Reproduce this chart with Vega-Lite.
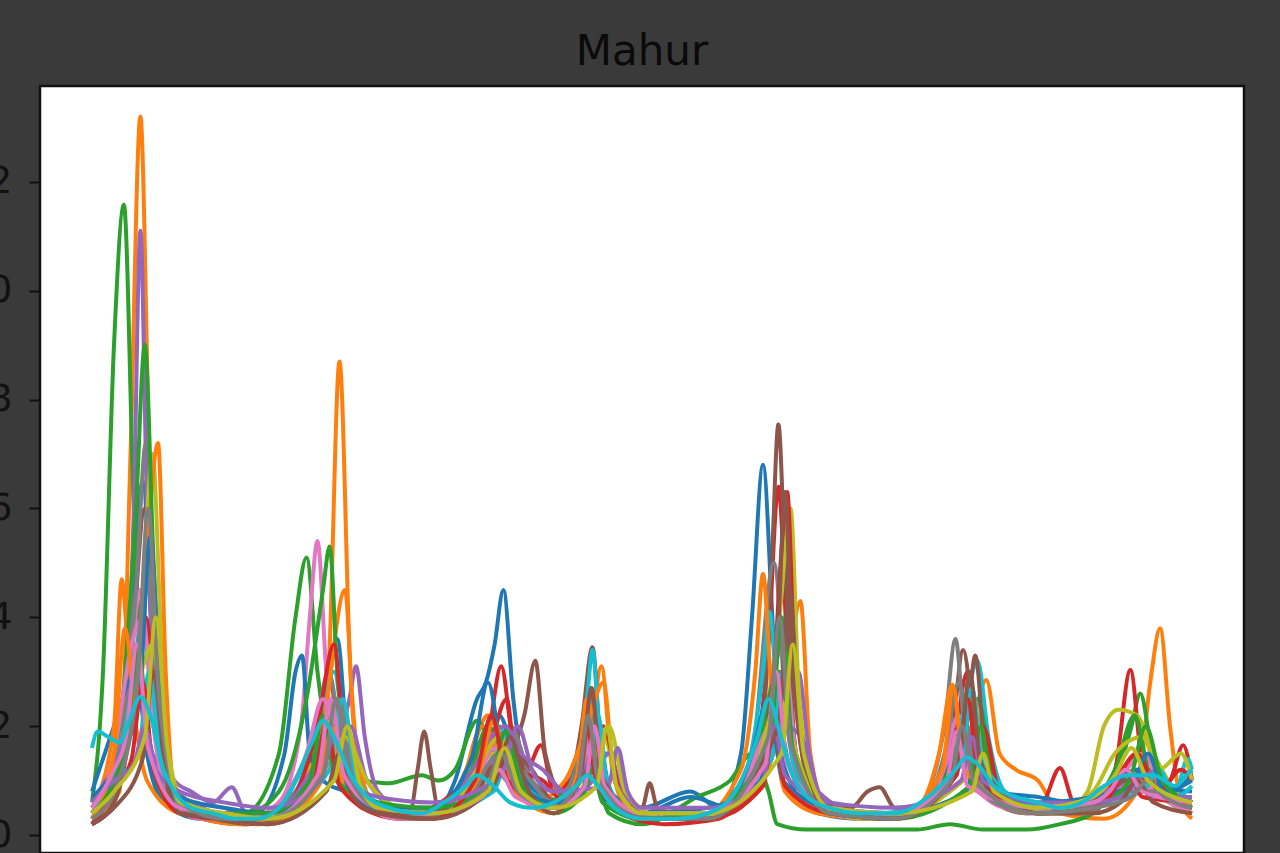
{
"$schema":"https://vega.github.io/schema/vega-lite/v6.json",
"autosize":{"type":"none"},
"padding":{"left":40,"top":86,"right":36,"bottom":0},
"width":1204,"height":767,
"background":"#3a3a3a",
"config":{"view":{"fill":"white","stroke":"#111111","strokeWidth":2.5},"line":{"strokeWidth":4}},
"title":{"text":"Mahur","font":"DejaVu Sans","fontSize":42,"fontWeight":"normal","color":"#0a0a0a","offset":12,"anchor":"middle"},
"datasets":{"d":[
{"s":"s01","x":0,"y":0.004},{"s":"s01","x":2,"y":0.012},{"s":"s01","x":3.5,"y":0.035},{"s":"s01","x":4.6,"y":0.065},{"s":"s01","x":5.6,"y":0.03},{"s":"s01","x":6.5,"y":0.01},{"s":"s01","x":8,"y":0.005},{"s":"s01","x":11,"y":0.004},{"s":"s01","x":14,"y":0.003},{"s":"s01","x":17,"y":0.005},{"s":"s01","x":19,"y":0.012},{"s":"s01","x":21,"y":0.02},{"s":"s01","x":22.3,"y":0.036},{"s":"s01","x":23.3,"y":0.015},{"s":"s01","x":25,"y":0.006},{"s":"s01","x":28,"y":0.004},{"s":"s01","x":31,"y":0.004},{"s":"s01","x":33,"y":0.01},{"s":"s01","x":35,"y":0.025},{"s":"s01","x":35.8,"y":0.028},{"s":"s01","x":36.6,"y":0.035},{"s":"s01","x":37.4,"y":0.045},{"s":"s01","x":38.3,"y":0.025},{"s":"s01","x":39.5,"y":0.01},{"s":"s01","x":42,"y":0.006},{"s":"s01","x":44,"y":0.01},{"s":"s01","x":45.5,"y":0.018},{"s":"s01","x":47,"y":0.008},{"s":"s01","x":50,"y":0.005},{"s":"s01","x":54.4,"y":0.008},{"s":"s01","x":57,"y":0.005},{"s":"s01","x":59,"y":0.015},{"s":"s01","x":60,"y":0.04},{"s":"s01","x":61,"y":0.068},{"s":"s01","x":62,"y":0.035},{"s":"s01","x":63.5,"y":0.012},{"s":"s01","x":66,"y":0.005},{"s":"s01","x":70,"y":0.003},{"s":"s01","x":74,"y":0.004},{"s":"s01","x":77,"y":0.008},{"s":"s01","x":79,"y":0.018},{"s":"s01","x":80.5,"y":0.02},{"s":"s01","x":82,"y":0.009},{"s":"s01","x":85,"y":0.005},{"s":"s01","x":88,"y":0.004},{"s":"s01","x":91,"y":0.006},{"s":"s01","x":94,"y":0.01},{"s":"s01","x":96,"y":0.012},{"s":"s01","x":98,"y":0.008},{"s":"s01","x":100,"y":0.011},
{"s":"s02","x":0,"y":0.003},{"s":"s02","x":2.5,"y":0.008},{"s":"s02","x":3.5,"y":0.07},{"s":"s02","x":4.4,"y":0.132},{"s":"s02","x":5.2,"y":0.07},{"s":"s02","x":6,"y":0.02},{"s":"s02","x":7,"y":0.006},{"s":"s02","x":10,"y":0.003},{"s":"s02","x":14,"y":0.002},{"s":"s02","x":17,"y":0.003},{"s":"s02","x":20,"y":0.008},{"s":"s02","x":21.5,"y":0.03},{"s":"s02","x":22.5,"y":0.087},{"s":"s02","x":23.5,"y":0.03},{"s":"s02","x":25,"y":0.006},{"s":"s02","x":28,"y":0.003},{"s":"s02","x":32,"y":0.004},{"s":"s02","x":34,"y":0.012},{"s":"s02","x":36,"y":0.022},{"s":"s02","x":38,"y":0.012},{"s":"s02","x":41,"y":0.005},{"s":"s02","x":44,"y":0.012},{"s":"s02","x":45.5,"y":0.022},{"s":"s02","x":46.3,"y":0.031},{"s":"s02","x":47.3,"y":0.012},{"s":"s02","x":49,"y":0.004},{"s":"s02","x":53,"y":0.003},{"s":"s02","x":57,"y":0.004},{"s":"s02","x":61,"y":0.01},{"s":"s02","x":63,"y":0.025},{"s":"s02","x":64.4,"y":0.043},{"s":"s02","x":65.3,"y":0.015},{"s":"s02","x":67,"y":0.004},{"s":"s02","x":71,"y":0.003},{"s":"s02","x":75,"y":0.004},{"s":"s02","x":78,"y":0.01},{"s":"s02","x":80,"y":0.02},{"s":"s02","x":81.3,"y":0.0285},{"s":"s02","x":82.5,"y":0.015},{"s":"s02","x":84,"y":0.012},{"s":"s02","x":86,"y":0.01},{"s":"s02","x":88,"y":0.004},{"s":"s02","x":92,"y":0.003},{"s":"s02","x":95,"y":0.008},{"s":"s02","x":96.2,"y":0.028},{"s":"s02","x":97.1,"y":0.038},{"s":"s02","x":98,"y":0.02},{"s":"s02","x":99,"y":0.006},{"s":"s02","x":100,"y":0.003},
{"s":"s03","x":0,"y":0.006},{"s":"s03","x":1,"y":0.03},{"s":"s03","x":2,"y":0.09},{"s":"s03","x":2.9,"y":0.1158},{"s":"s03","x":3.8,"y":0.06},{"s":"s03","x":5,"y":0.015},{"s":"s03","x":7,"y":0.005},{"s":"s03","x":10,"y":0.003},{"s":"s03","x":14,"y":0.004},{"s":"s03","x":17,"y":0.015},{"s":"s03","x":18.5,"y":0.04},{"s":"s03","x":19.5,"y":0.051},{"s":"s03","x":20.5,"y":0.03},{"s":"s03","x":22,"y":0.012},{"s":"s03","x":23,"y":0.009},{"s":"s03","x":24,"y":0.01},{"s":"s03","x":27,"y":0.0095},{"s":"s03","x":30,"y":0.011},{"s":"s03","x":31.5,"y":0.01},{"s":"s03","x":33,"y":0.012},{"s":"s03","x":35,"y":0.021},{"s":"s03","x":37,"y":0.012},{"s":"s03","x":40,"y":0.006},{"s":"s03","x":42,"y":0.004},{"s":"s03","x":44,"y":0.006},{"s":"s03","x":45.5,"y":0.012},{"s":"s03","x":47,"y":0.004},{"s":"s03","x":50,"y":0.002},{"s":"s03","x":55,"y":0.007},{"s":"s03","x":58,"y":0.01},{"s":"s03","x":60,"y":0.015},{"s":"s03","x":61.5,"y":0.008},{"s":"s03","x":62.3,"y":0.002},{"s":"s03","x":65,"y":0.001},{"s":"s03","x":70,"y":0.001},{"s":"s03","x":75,"y":0.001},{"s":"s03","x":78,"y":0.002},{"s":"s03","x":81,"y":0.001},{"s":"s03","x":85,"y":0.001},{"s":"s03","x":88,"y":0.002},{"s":"s03","x":91,"y":0.004},{"s":"s03","x":93,"y":0.01},{"s":"s03","x":94.5,"y":0.02},{"s":"s03","x":95.3,"y":0.026},{"s":"s03","x":96.3,"y":0.016},{"s":"s03","x":98,"y":0.006},{"s":"s03","x":100,"y":0.004},
{"s":"s04","x":0,"y":0.002},{"s":"s04","x":2,"y":0.006},{"s":"s04","x":4,"y":0.03},{"s":"s04","x":5,"y":0.05},{"s":"s04","x":6,"y":0.02},{"s":"s04","x":7.5,"y":0.005},{"s":"s04","x":11,"y":0.003},{"s":"s04","x":15,"y":0.003},{"s":"s04","x":18,"y":0.006},{"s":"s04","x":20.5,"y":0.018},{"s":"s04","x":21.6,"y":0.029},{"s":"s04","x":22.6,"y":0.014},{"s":"s04","x":24.5,"y":0.005},{"s":"s04","x":28,"y":0.003},{"s":"s04","x":32,"y":0.004},{"s":"s04","x":34,"y":0.008},{"s":"s04","x":36,"y":0.018},{"s":"s04","x":37.2,"y":0.031},{"s":"s04","x":38.2,"y":0.018},{"s":"s04","x":39.5,"y":0.012},{"s":"s04","x":40.8,"y":0.0165},{"s":"s04","x":42,"y":0.008},{"s":"s04","x":44,"y":0.012},{"s":"s04","x":45.4,"y":0.027},{"s":"s04","x":46.4,"y":0.01},{"s":"s04","x":48,"y":0.004},{"s":"s04","x":52,"y":0.002},{"s":"s04","x":57,"y":0.003},{"s":"s04","x":60,"y":0.012},{"s":"s04","x":61.5,"y":0.035},{"s":"s04","x":62.4,"y":0.064},{"s":"s04","x":63.3,"y":0.03},{"s":"s04","x":64.5,"y":0.01},{"s":"s04","x":67,"y":0.004},{"s":"s04","x":71,"y":0.003},{"s":"s04","x":75,"y":0.004},{"s":"s04","x":78,"y":0.012},{"s":"s04","x":79.6,"y":0.03},{"s":"s04","x":80.6,"y":0.015},{"s":"s04","x":82,"y":0.006},{"s":"s04","x":85,"y":0.004},{"s":"s04","x":86.5,"y":0.006},{"s":"s04","x":88,"y":0.0123},{"s":"s04","x":89.3,"y":0.006},{"s":"s04","x":91,"y":0.006},{"s":"s04","x":93,"y":0.012},{"s":"s04","x":94.4,"y":0.0303},{"s":"s04","x":95.4,"y":0.014},{"s":"s04","x":96.5,"y":0.008},{"s":"s04","x":98,"y":0.01},{"s":"s04","x":99.2,"y":0.0165},{"s":"s04","x":100,"y":0.01},
{"s":"s05","x":0,"y":0.005},{"s":"s05","x":3,"y":0.02},{"s":"s05","x":3.8,"y":0.06},{"s":"s05","x":4.4,"y":0.111},{"s":"s05","x":5,"y":0.06},{"s":"s05","x":6,"y":0.02},{"s":"s05","x":7.5,"y":0.01},{"s":"s05","x":9,"y":0.008},{"s":"s05","x":11,"y":0.006},{"s":"s05","x":12.7,"y":0.0088},{"s":"s05","x":14,"y":0.004},{"s":"s05","x":17,"y":0.003},{"s":"s05","x":20,"y":0.008},{"s":"s05","x":22,"y":0.015},{"s":"s05","x":23.4,"y":0.025},{"s":"s05","x":24,"y":0.031},{"s":"s05","x":24.8,"y":0.018},{"s":"s05","x":26,"y":0.008},{"s":"s05","x":29,"y":0.004},{"s":"s05","x":33,"y":0.006},{"s":"s05","x":36,"y":0.012},{"s":"s05","x":38,"y":0.02},{"s":"s05","x":40,"y":0.01},{"s":"s05","x":43,"y":0.006},{"s":"s05","x":45.5,"y":0.01},{"s":"s05","x":47,"y":0.015},{"s":"s05","x":48.5,"y":0.006},{"s":"s05","x":52,"y":0.003},{"s":"s05","x":57,"y":0.004},{"s":"s05","x":60,"y":0.01},{"s":"s05","x":62,"y":0.02},{"s":"s05","x":64.2,"y":0.03},{"s":"s05","x":65.2,"y":0.015},{"s":"s05","x":67,"y":0.005},{"s":"s05","x":72,"y":0.003},{"s":"s05","x":76,"y":0.005},{"s":"s05","x":79,"y":0.015},{"s":"s05","x":80.5,"y":0.02},{"s":"s05","x":82,"y":0.009},{"s":"s05","x":85,"y":0.004},{"s":"s05","x":89,"y":0.004},{"s":"s05","x":92,"y":0.007},{"s":"s05","x":95,"y":0.012},{"s":"s05","x":98,"y":0.008},{"s":"s05","x":100,"y":0.006},
{"s":"s06","x":0,"y":0.002},{"s":"s06","x":2,"y":0.01},{"s":"s06","x":3.5,"y":0.03},{"s":"s06","x":4.8,"y":0.06},{"s":"s06","x":5.8,"y":0.035},{"s":"s06","x":7,"y":0.008},{"s":"s06","x":10,"y":0.003},{"s":"s06","x":14,"y":0.002},{"s":"s06","x":18,"y":0.004},{"s":"s06","x":20.5,"y":0.015},{"s":"s06","x":22,"y":0.025},{"s":"s06","x":23.5,"y":0.01},{"s":"s06","x":26,"y":0.004},{"s":"s06","x":29,"y":0.005},{"s":"s06","x":29.6,"y":0.012},{"s":"s06","x":30.2,"y":0.019},{"s":"s06","x":30.8,"y":0.012},{"s":"s06","x":31.5,"y":0.005},{"s":"s06","x":34,"y":0.008},{"s":"s06","x":36,"y":0.012},{"s":"s06","x":38,"y":0.015},{"s":"s06","x":39.3,"y":0.022},{"s":"s06","x":40.3,"y":0.032},{"s":"s06","x":41.2,"y":0.015},{"s":"s06","x":43,"y":0.007},{"s":"s06","x":44.5,"y":0.02},{"s":"s06","x":45.5,"y":0.0345},{"s":"s06","x":46.3,"y":0.015},{"s":"s06","x":48,"y":0.005},{"s":"s06","x":50,"y":0.005},{"s":"s06","x":50.7,"y":0.0095},{"s":"s06","x":51.4,"y":0.005},{"s":"s06","x":55,"y":0.003},{"s":"s06","x":59,"y":0.006},{"s":"s06","x":61,"y":0.02},{"s":"s06","x":61.8,"y":0.05},{"s":"s06","x":62.4,"y":0.0754},{"s":"s06","x":63,"y":0.05},{"s":"s06","x":64,"y":0.015},{"s":"s06","x":66,"y":0.006},{"s":"s06","x":69,"y":0.005},{"s":"s06","x":70.5,"y":0.008},{"s":"s06","x":71.6,"y":0.0088},{"s":"s06","x":73,"y":0.005},{"s":"s06","x":76,"y":0.006},{"s":"s06","x":78,"y":0.015},{"s":"s06","x":79.2,"y":0.034},{"s":"s06","x":80.2,"y":0.02},{"s":"s06","x":82,"y":0.008},{"s":"s06","x":86,"y":0.004},{"s":"s06","x":90,"y":0.004},{"s":"s06","x":93,"y":0.008},{"s":"s06","x":95,"y":0.015},{"s":"s06","x":97,"y":0.008},{"s":"s06","x":100,"y":0.005},
{"s":"s07","x":0,"y":0.003},{"s":"s07","x":2,"y":0.012},{"s":"s07","x":3.4,"y":0.03},{"s":"s07","x":4.4,"y":0.045},{"s":"s07","x":5.4,"y":0.025},{"s":"s07","x":7,"y":0.006},{"s":"s07","x":10,"y":0.004},{"s":"s07","x":14,"y":0.003},{"s":"s07","x":17,"y":0.006},{"s":"s07","x":19,"y":0.02},{"s":"s07","x":19.8,"y":0.04},{"s":"s07","x":20.5,"y":0.054},{"s":"s07","x":21.3,"y":0.03},{"s":"s07","x":22.5,"y":0.01},{"s":"s07","x":25,"y":0.005},{"s":"s07","x":29,"y":0.003},{"s":"s07","x":33,"y":0.006},{"s":"s07","x":36,"y":0.015},{"s":"s07","x":37.5,"y":0.018},{"s":"s07","x":39,"y":0.01},{"s":"s07","x":42,"y":0.005},{"s":"s07","x":44.5,"y":0.012},{"s":"s07","x":45.8,"y":0.02},{"s":"s07","x":47,"y":0.008},{"s":"s07","x":50,"y":0.003},{"s":"s07","x":55,"y":0.003},{"s":"s07","x":59,"y":0.008},{"s":"s07","x":61.5,"y":0.025},{"s":"s07","x":62.8,"y":0.035},{"s":"s07","x":64,"y":0.015},{"s":"s07","x":66,"y":0.005},{"s":"s07","x":70,"y":0.003},{"s":"s07","x":74,"y":0.004},{"s":"s07","x":77,"y":0.01},{"s":"s07","x":78.8,"y":0.022},{"s":"s07","x":80,"y":0.012},{"s":"s07","x":82.5,"y":0.006},{"s":"s07","x":86,"y":0.004},{"s":"s07","x":90,"y":0.005},{"s":"s07","x":93,"y":0.009},{"s":"s07","x":95.5,"y":0.015},{"s":"s07","x":97.5,"y":0.008},{"s":"s07","x":100,"y":0.006},
{"s":"s08","x":0,"y":0.004},{"s":"s08","x":2.5,"y":0.015},{"s":"s08","x":4,"y":0.045},{"s":"s08","x":4.9,"y":0.072},{"s":"s08","x":5.8,"y":0.04},{"s":"s08","x":7,"y":0.01},{"s":"s08","x":10,"y":0.005},{"s":"s08","x":14,"y":0.003},{"s":"s08","x":17,"y":0.005},{"s":"s08","x":20,"y":0.015},{"s":"s08","x":21.5,"y":0.03},{"s":"s08","x":22.8,"y":0.015},{"s":"s08","x":25,"y":0.006},{"s":"s08","x":29,"y":0.004},{"s":"s08","x":33,"y":0.007},{"s":"s08","x":36,"y":0.015},{"s":"s08","x":38,"y":0.02},{"s":"s08","x":40,"y":0.01},{"s":"s08","x":43,"y":0.006},{"s":"s08","x":44.5,"y":0.015},{"s":"s08","x":45.2,"y":0.027},{"s":"s08","x":46,"y":0.015},{"s":"s08","x":48,"y":0.005},{"s":"s08","x":52,"y":0.003},{"s":"s08","x":57,"y":0.004},{"s":"s08","x":60,"y":0.015},{"s":"s08","x":62,"y":0.05},{"s":"s08","x":63.2,"y":0.02},{"s":"s08","x":65,"y":0.006},{"s":"s08","x":70,"y":0.003},{"s":"s08","x":75,"y":0.005},{"s":"s08","x":77.5,"y":0.02},{"s":"s08","x":78.5,"y":0.036},{"s":"s08","x":79.3,"y":0.02},{"s":"s08","x":81,"y":0.008},{"s":"s08","x":85,"y":0.004},{"s":"s08","x":90,"y":0.004},{"s":"s08","x":93,"y":0.007},{"s":"s08","x":96,"y":0.01},{"s":"s08","x":100,"y":0.006},
{"s":"s09","x":0,"y":0.005},{"s":"s09","x":3,"y":0.015},{"s":"s09","x":4.5,"y":0.04},{"s":"s09","x":5.5,"y":0.07},{"s":"s09","x":6.4,"y":0.03},{"s":"s09","x":7.5,"y":0.008},{"s":"s09","x":11,"y":0.004},{"s":"s09","x":15,"y":0.003},{"s":"s09","x":18,"y":0.006},{"s":"s09","x":21,"y":0.018},{"s":"s09","x":22.5,"y":0.025},{"s":"s09","x":24,"y":0.01},{"s":"s09","x":27,"y":0.004},{"s":"s09","x":31,"y":0.004},{"s":"s09","x":34,"y":0.008},{"s":"s09","x":36.5,"y":0.015},{"s":"s09","x":38.5,"y":0.01},{"s":"s09","x":42,"y":0.005},{"s":"s09","x":45,"y":0.01},{"s":"s09","x":46.5,"y":0.018},{"s":"s09","x":48,"y":0.008},{"s":"s09","x":52,"y":0.003},{"s":"s09","x":57,"y":0.004},{"s":"s09","x":60,"y":0.012},{"s":"s09","x":62.5,"y":0.04},{"s":"s09","x":63.5,"y":0.06},{"s":"s09","x":64.3,"y":0.025},{"s":"s09","x":66,"y":0.006},{"s":"s09","x":70,"y":0.003},{"s":"s09","x":74,"y":0.004},{"s":"s09","x":78,"y":0.012},{"s":"s09","x":80,"y":0.025},{"s":"s09","x":81.5,"y":0.012},{"s":"s09","x":84,"y":0.005},{"s":"s09","x":88,"y":0.004},{"s":"s09","x":90.5,"y":0.008},{"s":"s09","x":92,"y":0.02},{"s":"s09","x":93.3,"y":0.023},{"s":"s09","x":95,"y":0.022},{"s":"s09","x":96.5,"y":0.015},{"s":"s09","x":98.5,"y":0.008},{"s":"s09","x":100,"y":0.005},
{"s":"s10","x":0,"y":0.004},{"s":"s10","x":2,"y":0.01},{"s":"s10","x":3.5,"y":0.025},{"s":"s10","x":4.6,"y":0.04},{"s":"s10","x":5.6,"y":0.02},{"s":"s10","x":7,"y":0.006},{"s":"s10","x":11,"y":0.004},{"s":"s10","x":15,"y":0.003},{"s":"s10","x":18,"y":0.006},{"s":"s10","x":20.5,"y":0.02},{"s":"s10","x":22,"y":0.03},{"s":"s10","x":23.3,"y":0.012},{"s":"s10","x":26,"y":0.005},{"s":"s10","x":30,"y":0.004},{"s":"s10","x":34,"y":0.008},{"s":"s10","x":37,"y":0.02},{"s":"s10","x":39,"y":0.01},{"s":"s10","x":42,"y":0.006},{"s":"s10","x":44,"y":0.012},{"s":"s10","x":45,"y":0.025},{"s":"s10","x":45.5,"y":0.034},{"s":"s10","x":46.1,"y":0.02},{"s":"s10","x":47.5,"y":0.007},{"s":"s10","x":51,"y":0.003},{"s":"s10","x":56,"y":0.004},{"s":"s10","x":59.5,"y":0.012},{"s":"s10","x":61,"y":0.03},{"s":"s10","x":61.6,"y":0.041},{"s":"s10","x":62.3,"y":0.025},{"s":"s10","x":64,"y":0.01},{"s":"s10","x":67,"y":0.005},{"s":"s10","x":71,"y":0.004},{"s":"s10","x":75,"y":0.005},{"s":"s10","x":78,"y":0.012},{"s":"s10","x":79.5,"y":0.025},{"s":"s10","x":80.5,"y":0.032},{"s":"s10","x":81.5,"y":0.018},{"s":"s10","x":83,"y":0.008},{"s":"s10","x":87,"y":0.005},{"s":"s10","x":91,"y":0.006},{"s":"s10","x":94,"y":0.01},{"s":"s10","x":97,"y":0.009},{"s":"s10","x":98.5,"y":0.008},{"s":"s10","x":99.6,"y":0.014},{"s":"s10","x":100,"y":0.012},
{"s":"s11","x":0,"y":0.008},{"s":"s11","x":2,"y":0.02},{"s":"s11","x":3.3,"y":0.028},{"s":"s11","x":4,"y":0.03},{"s":"s11","x":5,"y":0.015},{"s":"s11","x":6.5,"y":0.006},{"s":"s11","x":10,"y":0.003},{"s":"s11","x":15,"y":0.004},{"s":"s11","x":17.5,"y":0.015},{"s":"s11","x":18.5,"y":0.03},{"s":"s11","x":19.1,"y":0.033},{"s":"s11","x":19.8,"y":0.015},{"s":"s11","x":21,"y":0.01},{"s":"s11","x":23,"y":0.008},{"s":"s11","x":26,"y":0.005},{"s":"s11","x":30,"y":0.004},{"s":"s11","x":33,"y":0.008},{"s":"s11","x":35.5,"y":0.018},{"s":"s11","x":37,"y":0.022},{"s":"s11","x":39,"y":0.01},{"s":"s11","x":42,"y":0.005},{"s":"s11","x":45,"y":0.012},{"s":"s11","x":47,"y":0.008},{"s":"s11","x":50,"y":0.004},{"s":"s11","x":54.4,"y":0.007},{"s":"s11","x":58,"y":0.005},{"s":"s11","x":60,"y":0.015},{"s":"s11","x":61.5,"y":0.025},{"s":"s11","x":63,"y":0.012},{"s":"s11","x":66,"y":0.004},{"s":"s11","x":70,"y":0.003},{"s":"s11","x":74,"y":0.004},{"s":"s11","x":78,"y":0.01},{"s":"s11","x":80,"y":0.015},{"s":"s11","x":82,"y":0.008},{"s":"s11","x":86,"y":0.007},{"s":"s11","x":89,"y":0.006},{"s":"s11","x":92,"y":0.008},{"s":"s11","x":95,"y":0.012},{"s":"s11","x":97,"y":0.009},{"s":"s11","x":100,"y":0.008},
{"s":"s12","x":0,"y":0.005},{"s":"s12","x":2,"y":0.02},{"s":"s12","x":2.7,"y":0.047},{"s":"s12","x":3.5,"y":0.03},{"s":"s12","x":4.5,"y":0.035},{"s":"s12","x":5.3,"y":0.06},{"s":"s12","x":6,"y":0.072},{"s":"s12","x":6.7,"y":0.03},{"s":"s12","x":7.5,"y":0.008},{"s":"s12","x":10,"y":0.003},{"s":"s12","x":14,"y":0.002},{"s":"s12","x":18,"y":0.005},{"s":"s12","x":21,"y":0.02},{"s":"s12","x":23,"y":0.045},{"s":"s12","x":23.8,"y":0.02},{"s":"s12","x":25.5,"y":0.006},{"s":"s12","x":29,"y":0.003},{"s":"s12","x":33,"y":0.006},{"s":"s12","x":35.5,"y":0.02},{"s":"s12","x":37,"y":0.015},{"s":"s12","x":40,"y":0.006},{"s":"s12","x":43,"y":0.01},{"s":"s12","x":45,"y":0.02},{"s":"s12","x":46.5,"y":0.028},{"s":"s12","x":47.5,"y":0.01},{"s":"s12","x":50,"y":0.003},{"s":"s12","x":55,"y":0.003},{"s":"s12","x":59,"y":0.012},{"s":"s12","x":60.3,"y":0.03},{"s":"s12","x":61,"y":0.048},{"s":"s12","x":61.8,"y":0.025},{"s":"s12","x":63,"y":0.008},{"s":"s12","x":66,"y":0.004},{"s":"s12","x":71,"y":0.003},{"s":"s12","x":75,"y":0.005},{"s":"s12","x":77,"y":0.015},{"s":"s12","x":78.2,"y":0.0276},{"s":"s12","x":79.3,"y":0.012},{"s":"s12","x":82,"y":0.006},{"s":"s12","x":86,"y":0.004},{"s":"s12","x":90,"y":0.005},{"s":"s12","x":93,"y":0.01},{"s":"s12","x":95,"y":0.015},{"s":"s12","x":97,"y":0.008},{"s":"s12","x":100,"y":0.004},
{"s":"s13","x":0,"y":0.003},{"s":"s13","x":2.5,"y":0.02},{"s":"s13","x":4,"y":0.06},{"s":"s13","x":4.8,"y":0.09},{"s":"s13","x":5.6,"y":0.05},{"s":"s13","x":6.8,"y":0.01},{"s":"s13","x":10,"y":0.004},{"s":"s13","x":14,"y":0.004},{"s":"s13","x":17,"y":0.008},{"s":"s13","x":19.5,"y":0.025},{"s":"s13","x":21,"y":0.045},{"s":"s13","x":21.6,"y":0.053},{"s":"s13","x":22.3,"y":0.03},{"s":"s13","x":24,"y":0.008},{"s":"s13","x":28,"y":0.004},{"s":"s13","x":32,"y":0.004},{"s":"s13","x":34.5,"y":0.012},{"s":"s13","x":36,"y":0.02},{"s":"s13","x":38,"y":0.012},{"s":"s13","x":41,"y":0.006},{"s":"s13","x":44,"y":0.01},{"s":"s13","x":45.5,"y":0.015},{"s":"s13","x":47.5,"y":0.006},{"s":"s13","x":51,"y":0.003},{"s":"s13","x":57,"y":0.004},{"s":"s13","x":60,"y":0.012},{"s":"s13","x":62.5,"y":0.03},{"s":"s13","x":64,"y":0.012},{"s":"s13","x":67,"y":0.004},{"s":"s13","x":72,"y":0.003},{"s":"s13","x":76,"y":0.005},{"s":"s13","x":79,"y":0.018},{"s":"s13","x":80.5,"y":0.025},{"s":"s13","x":82,"y":0.01},{"s":"s13","x":86,"y":0.004},{"s":"s13","x":90,"y":0.005},{"s":"s13","x":93,"y":0.012},{"s":"s13","x":94.8,"y":0.022},{"s":"s13","x":96,"y":0.012},{"s":"s13","x":98,"y":0.006},{"s":"s13","x":100,"y":0.005},
{"s":"s14","x":0,"y":0.004},{"s":"s14","x":2.5,"y":0.012},{"s":"s14","x":4,"y":0.03},{"s":"s14","x":4.9,"y":0.04},{"s":"s14","x":5.8,"y":0.02},{"s":"s14","x":7,"y":0.006},{"s":"s14","x":11,"y":0.003},{"s":"s14","x":15,"y":0.003},{"s":"s14","x":18,"y":0.006},{"s":"s14","x":20.5,"y":0.02},{"s":"s14","x":22,"y":0.035},{"s":"s14","x":23,"y":0.015},{"s":"s14","x":25,"y":0.006},{"s":"s14","x":29,"y":0.004},{"s":"s14","x":33,"y":0.008},{"s":"s14","x":36,"y":0.015},{"s":"s14","x":37.7,"y":0.025},{"s":"s14","x":38.6,"y":0.012},{"s":"s14","x":41,"y":0.01},{"s":"s14","x":43,"y":0.006},{"s":"s14","x":45,"y":0.015},{"s":"s14","x":46.5,"y":0.02},{"s":"s14","x":48,"y":0.008},{"s":"s14","x":51,"y":0.003},{"s":"s14","x":56,"y":0.003},{"s":"s14","x":60,"y":0.01},{"s":"s14","x":62,"y":0.03},{"s":"s14","x":62.6,"y":0.05},{"s":"s14","x":63.2,"y":0.063},{"s":"s14","x":63.9,"y":0.03},{"s":"s14","x":65.5,"y":0.008},{"s":"s14","x":68,"y":0.004},{"s":"s14","x":72,"y":0.003},{"s":"s14","x":76,"y":0.005},{"s":"s14","x":79,"y":0.015},{"s":"s14","x":81,"y":0.02},{"s":"s14","x":82.5,"y":0.008},{"s":"s14","x":86,"y":0.004},{"s":"s14","x":90,"y":0.005},{"s":"s14","x":93,"y":0.01},{"s":"s14","x":95,"y":0.015},{"s":"s14","x":97,"y":0.008},{"s":"s14","x":99,"y":0.012},{"s":"s14","x":100,"y":0.01},
{"s":"s15","x":0,"y":0.006},{"s":"s15","x":2.5,"y":0.015},{"s":"s15","x":4.3,"y":0.025},{"s":"s15","x":5.5,"y":0.015},{"s":"s15","x":7,"y":0.01},{"s":"s15","x":9,"y":0.006},{"s":"s15","x":12,"y":0.005},{"s":"s15","x":15,"y":0.003},{"s":"s15","x":18,"y":0.006},{"s":"s15","x":21,"y":0.015},{"s":"s15","x":23.5,"y":0.02},{"s":"s15","x":25,"y":0.01},{"s":"s15","x":28,"y":0.005},{"s":"s15","x":32,"y":0.005},{"s":"s15","x":34,"y":0.01},{"s":"s15","x":37.5,"y":0.02},{"s":"s15","x":39,"y":0.015},{"s":"s15","x":41,"y":0.012},{"s":"s15","x":43,"y":0.008},{"s":"s15","x":46,"y":0.015},{"s":"s15","x":47.5,"y":0.015},{"s":"s15","x":49,"y":0.005},{"s":"s15","x":53,"y":0.003},{"s":"s15","x":58,"y":0.004},{"s":"s15","x":61,"y":0.012},{"s":"s15","x":63,"y":0.02},{"s":"s15","x":64.5,"y":0.018},{"s":"s15","x":66,"y":0.008},{"s":"s15","x":70,"y":0.004},{"s":"s15","x":74,"y":0.004},{"s":"s15","x":77,"y":0.008},{"s":"s15","x":80,"y":0.015},{"s":"s15","x":82,"y":0.008},{"s":"s15","x":85,"y":0.005},{"s":"s15","x":89,"y":0.005},{"s":"s15","x":92,"y":0.008},{"s":"s15","x":95,"y":0.01},{"s":"s15","x":97,"y":0.012},{"s":"s15","x":98.5,"y":0.006},{"s":"s15","x":100,"y":0.006},
{"s":"s16","x":0,"y":0.002},{"s":"s16","x":2,"y":0.006},{"s":"s16","x":3.5,"y":0.02},{"s":"s16","x":4.5,"y":0.04},{"s":"s16","x":5.2,"y":0.05},{"s":"s16","x":6,"y":0.025},{"s":"s16","x":7.5,"y":0.005},{"s":"s16","x":11,"y":0.003},{"s":"s16","x":15,"y":0.002},{"s":"s16","x":18,"y":0.004},{"s":"s16","x":20,"y":0.01},{"s":"s16","x":21.6,"y":0.022},{"s":"s16","x":22.5,"y":0.01},{"s":"s16","x":25,"y":0.005},{"s":"s16","x":30,"y":0.004},{"s":"s16","x":34,"y":0.006},{"s":"s16","x":38,"y":0.015},{"s":"s16","x":40,"y":0.012},{"s":"s16","x":42,"y":0.006},{"s":"s16","x":45,"y":0.012},{"s":"s16","x":46,"y":0.02},{"s":"s16","x":47,"y":0.008},{"s":"s16","x":50,"y":0.003},{"s":"s16","x":56,"y":0.003},{"s":"s16","x":60,"y":0.01},{"s":"s16","x":62.3,"y":0.035},{"s":"s16","x":63,"y":0.063},{"s":"s16","x":63.7,"y":0.03},{"s":"s16","x":65.5,"y":0.008},{"s":"s16","x":69,"y":0.004},{"s":"s16","x":73,"y":0.003},{"s":"s16","x":77,"y":0.008},{"s":"s16","x":79.5,"y":0.02},{"s":"s16","x":80.3,"y":0.033},{"s":"s16","x":81.2,"y":0.015},{"s":"s16","x":83,"y":0.006},{"s":"s16","x":87,"y":0.004},{"s":"s16","x":91,"y":0.005},{"s":"s16","x":94,"y":0.01},{"s":"s16","x":96,"y":0.01},{"s":"s16","x":98,"y":0.006},{"s":"s16","x":100,"y":0.005},
{"s":"s17","x":0,"y":0.004},{"s":"s17","x":2,"y":0.015},{"s":"s17","x":3.6,"y":0.035},{"s":"s17","x":4.6,"y":0.04},{"s":"s17","x":5.6,"y":0.02},{"s":"s17","x":7,"y":0.006},{"s":"s17","x":10,"y":0.003},{"s":"s17","x":14,"y":0.003},{"s":"s17","x":17,"y":0.006},{"s":"s17","x":19.5,"y":0.015},{"s":"s17","x":21,"y":0.025},{"s":"s17","x":22.5,"y":0.015},{"s":"s17","x":24.5,"y":0.006},{"s":"s17","x":28,"y":0.003},{"s":"s17","x":32,"y":0.004},{"s":"s17","x":35,"y":0.01},{"s":"s17","x":36.5,"y":0.016},{"s":"s17","x":38,"y":0.01},{"s":"s17","x":41,"y":0.005},{"s":"s17","x":44,"y":0.01},{"s":"s17","x":45.8,"y":0.018},{"s":"s17","x":47,"y":0.006},{"s":"s17","x":50,"y":0.003},{"s":"s17","x":55,"y":0.003},{"s":"s17","x":59,"y":0.008},{"s":"s17","x":61.8,"y":0.02},{"s":"s17","x":63,"y":0.015},{"s":"s17","x":65,"y":0.006},{"s":"s17","x":70,"y":0.003},{"s":"s17","x":74,"y":0.004},{"s":"s17","x":77,"y":0.01},{"s":"s17","x":78.8,"y":0.018},{"s":"s17","x":80,"y":0.01},{"s":"s17","x":83,"y":0.005},{"s":"s17","x":88,"y":0.004},{"s":"s17","x":92,"y":0.006},{"s":"s17","x":95,"y":0.01},{"s":"s17","x":97,"y":0.007},{"s":"s17","x":100,"y":0.004},
{"s":"s18","x":0,"y":0.003},{"s":"s18","x":2.5,"y":0.01},{"s":"s18","x":4,"y":0.03},{"s":"s18","x":5,"y":0.05},{"s":"s18","x":6,"y":0.025},{"s":"s18","x":7.5,"y":0.006},{"s":"s18","x":11,"y":0.003},{"s":"s18","x":15,"y":0.003},{"s":"s18","x":18,"y":0.005},{"s":"s18","x":21,"y":0.015},{"s":"s18","x":22.5,"y":0.025},{"s":"s18","x":23.8,"y":0.01},{"s":"s18","x":26,"y":0.004},{"s":"s18","x":30,"y":0.003},{"s":"s18","x":34,"y":0.006},{"s":"s18","x":37,"y":0.015},{"s":"s18","x":39,"y":0.012},{"s":"s18","x":42,"y":0.006},{"s":"s18","x":44.5,"y":0.015},{"s":"s18","x":45.3,"y":0.022},{"s":"s18","x":46.3,"y":0.01},{"s":"s18","x":48.5,"y":0.004},{"s":"s18","x":53,"y":0.003},{"s":"s18","x":58,"y":0.004},{"s":"s18","x":61,"y":0.012},{"s":"s18","x":62.5,"y":0.035},{"s":"s18","x":63.8,"y":0.015},{"s":"s18","x":66,"y":0.005},{"s":"s18","x":71,"y":0.003},{"s":"s18","x":75,"y":0.004},{"s":"s18","x":77.5,"y":0.015},{"s":"s18","x":78.8,"y":0.028},{"s":"s18","x":80,"y":0.015},{"s":"s18","x":82,"y":0.006},{"s":"s18","x":86,"y":0.004},{"s":"s18","x":90,"y":0.005},{"s":"s18","x":94,"y":0.008},{"s":"s18","x":97,"y":0.008},{"s":"s18","x":100,"y":0.006},
{"s":"s19","x":0,"y":0.006},{"s":"s19","x":2.5,"y":0.012},{"s":"s19","x":4.5,"y":0.03},{"s":"s19","x":5.5,"y":0.035},{"s":"s19","x":6.5,"y":0.02},{"s":"s19","x":8,"y":0.007},{"s":"s19","x":11,"y":0.004},{"s":"s19","x":15,"y":0.003},{"s":"s19","x":18,"y":0.005},{"s":"s19","x":21.5,"y":0.012},{"s":"s19","x":23,"y":0.018},{"s":"s19","x":25,"y":0.01},{"s":"s19","x":28,"y":0.005},{"s":"s19","x":32,"y":0.004},{"s":"s19","x":35,"y":0.012},{"s":"s19","x":37,"y":0.018},{"s":"s19","x":39,"y":0.01},{"s":"s19","x":42,"y":0.005},{"s":"s19","x":45,"y":0.01},{"s":"s19","x":47,"y":0.02},{"s":"s19","x":48.5,"y":0.008},{"s":"s19","x":52,"y":0.003},{"s":"s19","x":57,"y":0.004},{"s":"s19","x":60,"y":0.01},{"s":"s19","x":62.5,"y":0.025},{"s":"s19","x":64,"y":0.015},{"s":"s19","x":66,"y":0.006},{"s":"s19","x":70,"y":0.003},{"s":"s19","x":75,"y":0.004},{"s":"s19","x":78,"y":0.008},{"s":"s19","x":81,"y":0.012},{"s":"s19","x":83,"y":0.006},{"s":"s19","x":87,"y":0.004},{"s":"s19","x":91,"y":0.008},{"s":"s19","x":93,"y":0.015},{"s":"s19","x":95.5,"y":0.018},{"s":"s19","x":97,"y":0.012},{"s":"s19","x":99,"y":0.015},{"s":"s19","x":100,"y":0.01},
{"s":"s20","x":0,"y":0.005},{"s":"s20","x":2,"y":0.01},{"s":"s20","x":4.2,"y":0.015},{"s":"s20","x":5.2,"y":0.03},{"s":"s20","x":6.2,"y":0.014},{"s":"s20","x":8,"y":0.006},{"s":"s20","x":12,"y":0.004},{"s":"s20","x":16,"y":0.003},{"s":"s20","x":21.6,"y":0.012},{"s":"s20","x":22.8,"y":0.025},{"s":"s20","x":24,"y":0.011},{"s":"s20","x":26,"y":0.006},{"s":"s20","x":31,"y":0.004},{"s":"s20","x":36.5,"y":0.008},{"s":"s20","x":38,"y":0.015},{"s":"s20","x":39.5,"y":0.008},{"s":"s20","x":42,"y":0.005},{"s":"s20","x":45.1,"y":0.01},{"s":"s20","x":46,"y":0.022},{"s":"s20","x":46.9,"y":0.009},{"s":"s20","x":50,"y":0.003},{"s":"s20","x":56,"y":0.004},{"s":"s20","x":61.8,"y":0.014},{"s":"s20","x":62.8,"y":0.03},{"s":"s20","x":63.8,"y":0.013},{"s":"s20","x":67,"y":0.005},{"s":"s20","x":73,"y":0.004},{"s":"s20","x":79,"y":0.013},{"s":"s20","x":80,"y":0.027},{"s":"s20","x":81,"y":0.013},{"s":"s20","x":86,"y":0.005},{"s":"s20","x":91,"y":0.006},{"s":"s20","x":95.5,"y":0.008},{"s":"s20","x":97,"y":0.012},{"s":"s20","x":98.5,"y":0.007},{"s":"s20","x":100,"y":0.009},
{"s":"s21","x":0,"y":0.007},{"s":"s21","x":2,"y":0.012},{"s":"s21","x":4.3,"y":0.025},{"s":"s21","x":5.3,"y":0.055},{"s":"s21","x":6.3,"y":0.022},{"s":"s21","x":8,"y":0.007},{"s":"s21","x":12,"y":0.005},{"s":"s21","x":16,"y":0.004},{"s":"s21","x":20.8,"y":0.01},{"s":"s21","x":22,"y":0.02},{"s":"s21","x":23.2,"y":0.009},{"s":"s21","x":26,"y":0.005},{"s":"s21","x":31,"y":0.005},{"s":"s21","x":34.5,"y":0.014},{"s":"s21","x":36,"y":0.028},{"s":"s21","x":37.5,"y":0.013},{"s":"s21","x":42,"y":0.006},{"s":"s21","x":44.6,"y":0.008},{"s":"s21","x":45.5,"y":0.015},{"s":"s21","x":46.4,"y":0.007},{"s":"s21","x":50,"y":0.004},{"s":"s21","x":56,"y":0.005},{"s":"s21","x":60.8,"y":0.01},{"s":"s21","x":61.8,"y":0.02},{"s":"s21","x":62.8,"y":0.01},{"s":"s21","x":67,"y":0.005},{"s":"s21","x":73,"y":0.004},{"s":"s21","x":79.5,"y":0.008},{"s":"s21","x":80.5,"y":0.015},{"s":"s21","x":81.5,"y":0.008},{"s":"s21","x":86,"y":0.006},{"s":"s21","x":91,"y":0.007},{"s":"s21","x":94.5,"y":0.009},{"s":"s21","x":96,"y":0.015},{"s":"s21","x":97.5,"y":0.008},{"s":"s21","x":100,"y":0.01},
{"s":"s22","x":0,"y":0.003},{"s":"s22","x":2,"y":0.015},{"s":"s22","x":3,"y":0.038},{"s":"s22","x":4,"y":0.02},{"s":"s22","x":5,"y":0.01},{"s":"s22","x":8,"y":0.004},{"s":"s22","x":12,"y":0.003},{"s":"s22","x":16,"y":0.002},{"s":"s22","x":20.6,"y":0.009},{"s":"s22","x":21.8,"y":0.02},{"s":"s22","x":23,"y":0.008},{"s":"s22","x":26,"y":0.004},{"s":"s22","x":31,"y":0.003},{"s":"s22","x":35,"y":0.01},{"s":"s22","x":36.5,"y":0.021},{"s":"s22","x":38,"y":0.009},{"s":"s22","x":42,"y":0.004},{"s":"s22","x":44.1,"y":0.011},{"s":"s22","x":45,"y":0.025},{"s":"s22","x":45.9,"y":0.01},{"s":"s22","x":50,"y":0.003},{"s":"s22","x":56,"y":0.003},{"s":"s22","x":61,"y":0.009},{"s":"s22","x":62,"y":0.02},{"s":"s22","x":63,"y":0.009},{"s":"s22","x":67,"y":0.004},{"s":"s22","x":73,"y":0.003},{"s":"s22","x":77.3,"y":0.012},{"s":"s22","x":78.3,"y":0.027},{"s":"s22","x":79.3,"y":0.012},{"s":"s22","x":86,"y":0.004},{"s":"s22","x":91,"y":0.004},{"s":"s22","x":93.5,"y":0.006},{"s":"s22","x":95,"y":0.01},{"s":"s22","x":96.5,"y":0.006},{"s":"s22","x":100,"y":0.004},
{"s":"s23","x":0,"y":0.004},{"s":"s23","x":2,"y":0.01},{"s":"s23","x":3.2,"y":0.018},{"s":"s23","x":4.2,"y":0.035},{"s":"s23","x":5.2,"y":0.016},{"s":"s23","x":8,"y":0.005},{"s":"s23","x":12,"y":0.004},{"s":"s23","x":16,"y":0.004},{"s":"s23","x":19.8,"y":0.01},{"s":"s23","x":21,"y":0.022},{"s":"s23","x":22.2,"y":0.01},{"s":"s23","x":26,"y":0.006},{"s":"s23","x":31,"y":0.005},{"s":"s23","x":36.1,"y":0.009},{"s":"s23","x":37.6,"y":0.019},{"s":"s23","x":39.1,"y":0.009},{"s":"s23","x":42,"y":0.005},{"s":"s23","x":44.6,"y":0.007},{"s":"s23","x":45.5,"y":0.012},{"s":"s23","x":46.4,"y":0.006},{"s":"s23","x":50,"y":0.003},{"s":"s23","x":56,"y":0.004},{"s":"s23","x":61.7,"y":0.018},{"s":"s23","x":62.7,"y":0.04},{"s":"s23","x":63.7,"y":0.016},{"s":"s23","x":67,"y":0.004},{"s":"s23","x":73,"y":0.003},{"s":"s23","x":79.8,"y":0.009},{"s":"s23","x":80.8,"y":0.02},{"s":"s23","x":81.8,"y":0.009},{"s":"s23","x":86,"y":0.004},{"s":"s23","x":91,"y":0.005},{"s":"s23","x":94.3,"y":0.01},{"s":"s23","x":95.8,"y":0.02},{"s":"s23","x":97.3,"y":0.01},{"s":"s23","x":100,"y":0.006},
{"s":"s24","x":0,"y":0.002},{"s":"s24","x":2,"y":0.008},{"s":"s24","x":3.6,"y":0.014},{"s":"s24","x":4.6,"y":0.028},{"s":"s24","x":5.6,"y":0.012},{"s":"s24","x":8,"y":0.004},{"s":"s24","x":12,"y":0.003},{"s":"s24","x":16,"y":0.003},{"s":"s24","x":20.1,"y":0.009},{"s":"s24","x":21.3,"y":0.02},{"s":"s24","x":22.5,"y":0.009},{"s":"s24","x":26,"y":0.004},{"s":"s24","x":31,"y":0.003},{"s":"s24","x":34.8,"y":0.01},{"s":"s24","x":36.3,"y":0.022},{"s":"s24","x":37.8,"y":0.01},{"s":"s24","x":42,"y":0.005},{"s":"s24","x":44.1,"y":0.009},{"s":"s24","x":45,"y":0.02},{"s":"s24","x":45.9,"y":0.009},{"s":"s24","x":50,"y":0.003},{"s":"s24","x":56,"y":0.003},{"s":"s24","x":61,"y":0.009},{"s":"s24","x":62,"y":0.02},{"s":"s24","x":63,"y":0.009},{"s":"s24","x":67,"y":0.004},{"s":"s24","x":73,"y":0.003},{"s":"s24","x":78.6,"y":0.011},{"s":"s24","x":79.6,"y":0.025},{"s":"s24","x":80.6,"y":0.011},{"s":"s24","x":86,"y":0.004},{"s":"s24","x":91,"y":0.005},{"s":"s24","x":92.5,"y":0.007},{"s":"s24","x":94,"y":0.012},{"s":"s24","x":95.5,"y":0.007},{"s":"s24","x":100,"y":0.006},
{"s":"s25","x":0,"y":0.006},{"s":"s25","x":2,"y":0.01},{"s":"s25","x":3.8,"y":0.013},{"s":"s25","x":4.8,"y":0.02},{"s":"s25","x":5.8,"y":0.012},{"s":"s25","x":8,"y":0.008},{"s":"s25","x":12,"y":0.006},{"s":"s25","x":16,"y":0.005},{"s":"s25","x":20.8,"y":0.01},{"s":"s25","x":22,"y":0.018},{"s":"s25","x":23.2,"y":0.01},{"s":"s25","x":26,"y":0.007},{"s":"s25","x":31,"y":0.006},{"s":"s25","x":37.2,"y":0.011},{"s":"s25","x":38.7,"y":0.02},{"s":"s25","x":40.2,"y":0.011},{"s":"s25","x":42,"y":0.008},{"s":"s25","x":46.9,"y":0.009},{"s":"s25","x":47.8,"y":0.016},{"s":"s25","x":48.7,"y":0.008},{"s":"s25","x":50,"y":0.005},{"s":"s25","x":56,"y":0.005},{"s":"s25","x":61,"y":0.01},{"s":"s25","x":62,"y":0.02},{"s":"s25","x":63,"y":0.011},{"s":"s25","x":67,"y":0.006},{"s":"s25","x":73,"y":0.005},{"s":"s25","x":79,"y":0.01},{"s":"s25","x":80,"y":0.018},{"s":"s25","x":81,"y":0.01},{"s":"s25","x":86,"y":0.006},{"s":"s25","x":91,"y":0.006},{"s":"s25","x":93.5,"y":0.007},{"s":"s25","x":95,"y":0.009},{"s":"s25","x":96.5,"y":0.007},{"s":"s25","x":100,"y":0.007},
{"s":"s26","x":0,"y":0.002},{"s":"s26","x":2,"y":0.005},{"s":"s26","x":4.6,"y":0.014},{"s":"s26","x":5.6,"y":0.03},{"s":"s26","x":6.6,"y":0.013},{"s":"s26","x":8,"y":0.004},{"s":"s26","x":12,"y":0.003},{"s":"s26","x":16,"y":0.002},{"s":"s26","x":21.3,"y":0.008},{"s":"s26","x":22.5,"y":0.015},{"s":"s26","x":23.7,"y":0.007},{"s":"s26","x":26,"y":0.004},{"s":"s26","x":31,"y":0.003},{"s":"s26","x":36.5,"y":0.009},{"s":"s26","x":38,"y":0.018},{"s":"s26","x":39.5,"y":0.009},{"s":"s26","x":42,"y":0.004},{"s":"s26","x":44.5,"y":0.012},{"s":"s26","x":45.4,"y":0.027},{"s":"s26","x":46.3,"y":0.011},{"s":"s26","x":50,"y":0.003},{"s":"s26","x":56,"y":0.003},{"s":"s26","x":62.4,"y":0.02},{"s":"s26","x":63.4,"y":0.045},{"s":"s26","x":64.4,"y":0.018},{"s":"s26","x":67,"y":0.004},{"s":"s26","x":73,"y":0.003},{"s":"s26","x":78.8,"y":0.013},{"s":"s26","x":79.8,"y":0.03},{"s":"s26","x":80.8,"y":0.013},{"s":"s26","x":86,"y":0.004},{"s":"s26","x":91,"y":0.004},{"s":"s26","x":93.5,"y":0.006},{"s":"s26","x":95,"y":0.01},{"s":"s26","x":96.5,"y":0.006},{"s":"s26","x":100,"y":0.004},
{"s":"s27","x":0,"y":0.005},{"s":"s27","x":2,"y":0.012},{"s":"s27","x":3.1,"y":0.018},{"s":"s27","x":4.1,"y":0.035},{"s":"s27","x":5.1,"y":0.016},{"s":"s27","x":8,"y":0.005},{"s":"s27","x":12,"y":0.004},{"s":"s27","x":16,"y":0.003},{"s":"s27","x":20.5,"y":0.011},{"s":"s27","x":21.7,"y":0.025},{"s":"s27","x":22.9,"y":0.011},{"s":"s27","x":26,"y":0.005},{"s":"s27","x":31,"y":0.004},{"s":"s27","x":35.5,"y":0.007},{"s":"s27","x":37,"y":0.012},{"s":"s27","x":38.5,"y":0.007},{"s":"s27","x":42,"y":0.005},{"s":"s27","x":44.8,"y":0.009},{"s":"s27","x":45.7,"y":0.02},{"s":"s27","x":46.6,"y":0.009},{"s":"s27","x":50,"y":0.004},{"s":"s27","x":56,"y":0.004},{"s":"s27","x":61.2,"y":0.013},{"s":"s27","x":62.2,"y":0.03},{"s":"s27","x":63.2,"y":0.013},{"s":"s27","x":67,"y":0.005},{"s":"s27","x":73,"y":0.004},{"s":"s27","x":77.6,"y":0.009},{"s":"s27","x":78.6,"y":0.019},{"s":"s27","x":79.6,"y":0.009},{"s":"s27","x":86,"y":0.005},{"s":"s27","x":91,"y":0.006},{"s":"s27","x":92.5,"y":0.008},{"s":"s27","x":94,"y":0.012},{"s":"s27","x":95.5,"y":0.008},{"s":"s27","x":100,"y":0.006},
{"s":"s28","x":0,"y":0.003},{"s":"s28","x":2,"y":0.008},{"s":"s28","x":4.1,"y":0.027},{"s":"s28","x":5.1,"y":0.06},{"s":"s28","x":6.1,"y":0.025},{"s":"s28","x":8,"y":0.006},{"s":"s28","x":12,"y":0.003},{"s":"s28","x":16,"y":0.003},{"s":"s28","x":21,"y":0.011},{"s":"s28","x":22.2,"y":0.025},{"s":"s28","x":23.4,"y":0.011},{"s":"s28","x":26,"y":0.005},{"s":"s28","x":31,"y":0.004},{"s":"s28","x":35.7,"y":0.008},{"s":"s28","x":37.2,"y":0.015},{"s":"s28","x":38.7,"y":0.008},{"s":"s28","x":42,"y":0.005},{"s":"s28","x":44.2,"y":0.01},{"s":"s28","x":45.1,"y":0.022},{"s":"s28","x":46,"y":0.01},{"s":"s28","x":50,"y":0.003},{"s":"s28","x":56,"y":0.003},{"s":"s28","x":61.5,"y":0.018},{"s":"s28","x":62.5,"y":0.04},{"s":"s28","x":63.5,"y":0.017},{"s":"s28","x":67,"y":0.004},{"s":"s28","x":73,"y":0.003},{"s":"s28","x":78.1,"y":0.01},{"s":"s28","x":79.1,"y":0.02},{"s":"s28","x":80.1,"y":0.01},{"s":"s28","x":86,"y":0.004},{"s":"s28","x":91,"y":0.005},{"s":"s28","x":94.5,"y":0.007},{"s":"s28","x":96,"y":0.01},{"s":"s28","x":97.5,"y":0.007},{"s":"s28","x":100,"y":0.005},
{"s":"s29","x":0,"y":0.004},{"s":"s29","x":2,"y":0.008},{"s":"s29","x":4.8,"y":0.018},{"s":"s29","x":5.8,"y":0.04},{"s":"s29","x":6.8,"y":0.017},{"s":"s29","x":8,"y":0.006},{"s":"s29","x":12,"y":0.004},{"s":"s29","x":16,"y":0.003},{"s":"s29","x":22,"y":0.01},{"s":"s29","x":23.2,"y":0.02},{"s":"s29","x":24.4,"y":0.009},{"s":"s29","x":26,"y":0.005},{"s":"s29","x":31,"y":0.004},{"s":"s29","x":36,"y":0.008},{"s":"s29","x":37.5,"y":0.016},{"s":"s29","x":39,"y":0.008},{"s":"s29","x":42,"y":0.005},{"s":"s29","x":45.9,"y":0.009},{"s":"s29","x":46.8,"y":0.02},{"s":"s29","x":47.7,"y":0.009},{"s":"s29","x":50,"y":0.004},{"s":"s29","x":56,"y":0.004},{"s":"s29","x":62.7,"y":0.015},{"s":"s29","x":63.7,"y":0.035},{"s":"s29","x":64.7,"y":0.015},{"s":"s29","x":67,"y":0.005},{"s":"s29","x":73,"y":0.004},{"s":"s29","x":80,"y":0.008},{"s":"s29","x":81,"y":0.015},{"s":"s29","x":82,"y":0.008},{"s":"s29","x":86,"y":0.005},{"s":"s29","x":91,"y":0.007},{"s":"s29","x":93,"y":0.011},{"s":"s29","x":94.5,"y":0.016},{"s":"s29","x":96,"y":0.01},{"s":"s29","x":100,"y":0.006},
{"s":"s30","x":0,"y":0.016},{"s":"s30","x":0.5,"y":0.019},{"s":"s30","x":1.5,"y":0.018},{"s":"s30","x":2.5,"y":0.017},{"s":"s30","x":3.4,"y":0.021},{"s":"s30","x":4.4,"y":0.0254},{"s":"s30","x":5.3,"y":0.022},{"s":"s30","x":6.5,"y":0.012},{"s":"s30","x":7.5,"y":0.008},{"s":"s30","x":9,"y":0.005},{"s":"s30","x":11,"y":0.004},{"s":"s30","x":13,"y":0.003},{"s":"s30","x":15,"y":0.003},{"s":"s30","x":17,"y":0.005},{"s":"s30","x":18.5,"y":0.01},{"s":"s30","x":20,"y":0.017},{"s":"s30","x":21,"y":0.021},{"s":"s30","x":22,"y":0.018},{"s":"s30","x":23.5,"y":0.011},{"s":"s30","x":25,"y":0.007},{"s":"s30","x":27,"y":0.005},{"s":"s30","x":30,"y":0.004},{"s":"s30","x":32,"y":0.006},{"s":"s30","x":34,"y":0.009},{"s":"s30","x":35,"y":0.011},{"s":"s30","x":36.5,"y":0.009},{"s":"s30","x":38,"y":0.006},{"s":"s30","x":40,"y":0.005},{"s":"s30","x":42,"y":0.006},{"s":"s30","x":44,"y":0.009},{"s":"s30","x":45,"y":0.011},{"s":"s30","x":46,"y":0.009},{"s":"s30","x":47.5,"y":0.005},{"s":"s30","x":50,"y":0.003},{"s":"s30","x":53,"y":0.003},{"s":"s30","x":56,"y":0.004},{"s":"s30","x":58.5,"y":0.008},{"s":"s30","x":60.5,"y":0.018},{"s":"s30","x":61.5,"y":0.025},{"s":"s30","x":62.5,"y":0.019},{"s":"s30","x":63.5,"y":0.012},{"s":"s30","x":65,"y":0.007},{"s":"s30","x":67,"y":0.005},{"s":"s30","x":70,"y":0.004},{"s":"s30","x":73,"y":0.004},{"s":"s30","x":76,"y":0.007},{"s":"s30","x":78.5,"y":0.012},{"s":"s30","x":79.5,"y":0.0143},{"s":"s30","x":80.5,"y":0.013},{"s":"s30","x":82,"y":0.009},{"s":"s30","x":84,"y":0.007},{"s":"s30","x":86,"y":0.006},{"s":"s30","x":88,"y":0.005},{"s":"s30","x":90,"y":0.006},{"s":"s30","x":92,"y":0.009},{"s":"s30","x":94,"y":0.011},{"s":"s30","x":96.5,"y":0.011},{"s":"s30","x":98.5,"y":0.009},{"s":"s30","x":99.5,"y":0.011},{"s":"s30","x":100,"y":0.012}
]},
"data":{"name":"d"},
"mark":{"type":"line","strokeWidth":4,"interpolate":"monotone","clip":true},
"encoding":{
"x":{"field":"x","type":"quantitative","scale":{"domain":[-4.727,104.727],"nice":false,"zero":false},"axis":null},
"y":{"field":"y","type":"quantitative","scale":{"domain":[-0.0033,0.1376],"nice":false,"zero":false},
"axis":{"values":[0,0.02,0.04,0.06,0.08,0.1,0.12],"format":".2f","title":null,"grid":false,"domain":false,
"labelFont":"DejaVu Sans","labelFontSize":38,"labelColor":"#111111","tickColor":"#111111","tickSize":11,"tickWidth":2,"labelPadding":17}},
"color":{"field":"s","type":"nominal","legend":null,
"scale":{"range":["#1f77b4","#ff7f0e","#2ca02c","#d62728","#9467bd","#8c564b","#e377c2","#7f7f7f","#bcbd22","#17becf"]}},
"order":{"field":"x","type":"quantitative"}
}
}
